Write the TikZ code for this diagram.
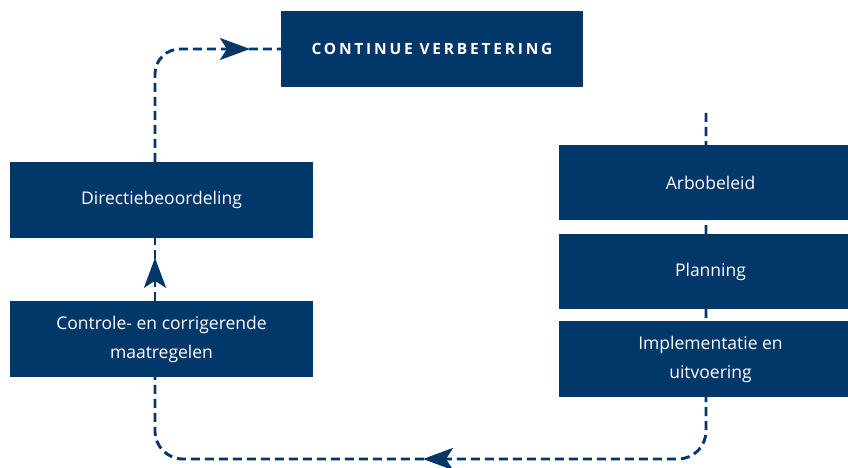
\documentclass[tikz,border=0pt]{standalone}
\usepackage{fontspec}
\setmainfont{Open Sans}
\usetikzlibrary{arrows.meta,decorations.markings,backgrounds}
\definecolor{navy}{HTML}{02376A}
\begin{document}
\begin{tikzpicture}[x=1pt,y=-1pt,
  box/.style={fill=navy, text=white, minimum width=303pt, minimum height=76pt, align=center, inner sep=0pt,
    font=\fontsize{17.5}{29}\selectfont},
  flow/.style={draw=navy, line width=2.9pt, dash pattern=on 9pt off 5pt},
  navytip/.tip={Stealth[length=30pt, width=22pt, inset=7pt]},
  arrowat/.style={postaction={decorate}, decoration={markings, mark=at position #1 with {\arrow[navy]{navytip}}}}
]
\useasboundingbox (0,0) rectangle (848,468);
\node[box, minimum width=302pt, font=\fontsize{15.5}{18}\selectfont\bfseries\addfontfeature{LetterSpace=18}] (cv) at (432,49) {CONTINUE VERBETERING};
\node[box] (dir) at (161.5,200) {Directiebeoordeling};
\node[box] (ctrl) at (161.5,339) {Controle- en corrigerende\\maatregelen};
\node[box, minimum height=75pt] (arbo) at (710.5,182.5) {Arbobeleid};
\node[box, minimum height=75pt] (plan) at (710.5,271.5) {Planning};
\node[box] (impl) at (710.5,359) {Implementatie en\\uitvoering};
\coordinate (start) at (706,113);
\coordinate (bl) at (155,459);
\begin{scope}[on background layer]
\draw[flow, rounded corners=28pt, arrowat=617pt] (start) |- (bl) -- ([xshift=-6.5pt]ctrl.south);
\end{scope}
\draw[flow, arrowat=43pt] ([xshift=-6.5pt]ctrl.north) -- ([xshift=-6.5pt]dir.south);
\draw[flow, rounded corners=25pt, arrowat=197pt] ([xshift=-6.5pt]dir.north) |- (cv.west);
\end{tikzpicture}
\end{document}
